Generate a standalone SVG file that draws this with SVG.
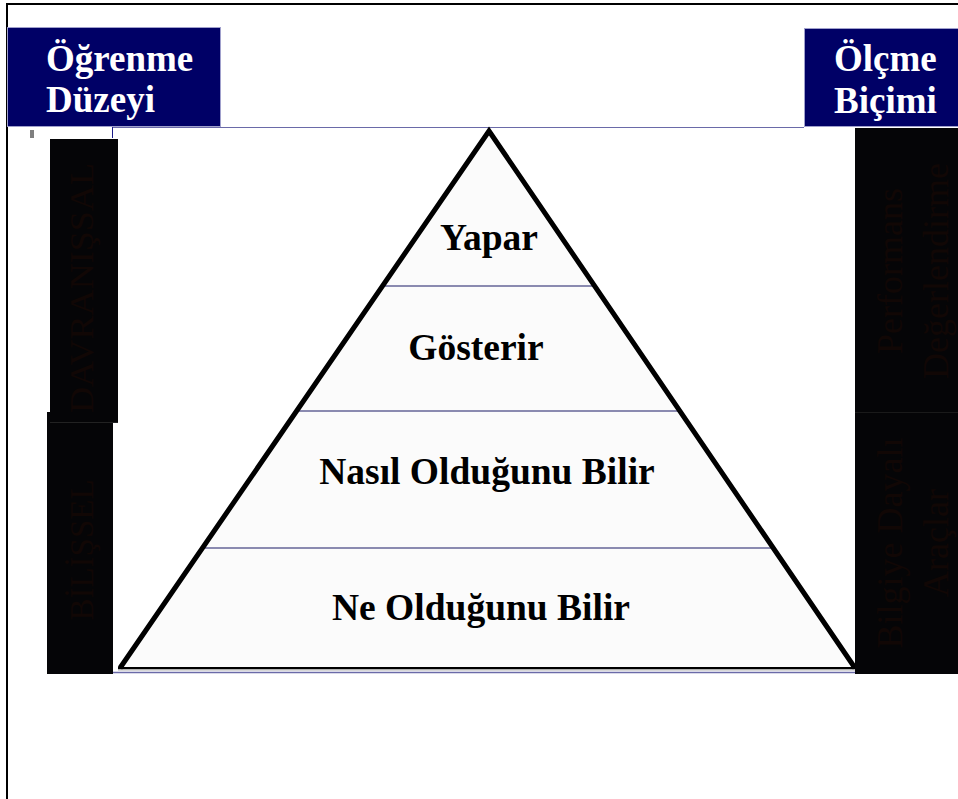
<svg xmlns="http://www.w3.org/2000/svg" width="958" height="799" viewBox="0 0 958 799">
<style>
.hdr{fill:#000066;stroke:#a0a0cc;stroke-width:1}
.ht{font-family:"Liberation Serif","Times New Roman",serif;font-weight:bold;font-size:37px;fill:#ffffff}
.lv{font-family:"Liberation Serif","Times New Roman",serif;font-weight:bold;font-size:37.5px;fill:#000000;text-anchor:middle}
.bar{fill:#050507}
.bt{font-family:"Liberation Serif","Times New Roman",serif;font-size:33px;fill:#110705;text-anchor:middle}
.bt2{font-family:"Liberation Serif","Times New Roman",serif;font-size:36px;fill:#110705;text-anchor:middle}
.div{stroke:#1a1a66;stroke-width:1.2}
</style>
<rect x="0" y="0" width="958" height="799" fill="#ffffff"/>
<g id="frame">
<line x1="6" y1="4" x2="958" y2="4" stroke="#000" stroke-width="2"/>
<line x1="7" y1="4" x2="7" y2="799" stroke="#000" stroke-width="2"/>
</g>
<g id="header-left">
<rect class="hdr" x="7.5" y="27.5" width="213" height="99"/>
<text class="ht" x="46" y="71">Öğrenme</text>
<text class="ht" x="46" y="112">Düzeyi</text>
</g>
<g id="header-right">
<rect class="hdr" x="804.5" y="28.5" width="155" height="98"/>
<text class="ht" x="834" y="71">Ölçme</text>
<text class="ht" x="834" y="113">Biçimi</text>
</g>
<g id="connectors">
<line x1="112" y1="127.5" x2="804" y2="127.5" stroke="#6a6aa8" stroke-width="1"/>
<line x1="112.5" y1="127" x2="112.5" y2="138" stroke="#1a1a88" stroke-width="1"/>
<line x1="31" y1="130" x2="31" y2="138" stroke="#000" stroke-width="1"/>
<line x1="33" y1="130" x2="33" y2="138" stroke="#000" stroke-width="1"/>
</g>
<g id="pyramid">
<polygon points="489,131 120,668 855,668" fill="#fbfbfb" stroke="none"/>
<line class="div" x1="382" y1="286" x2="596" y2="286"/>
<line class="div" x1="297" y1="411" x2="680" y2="411" stroke="#333355"/>
<line class="div" x1="203" y1="548" x2="772" y2="548" stroke="#333366"/>
<line x1="118" y1="669" x2="856" y2="669" stroke="#b0b0b0" stroke-width="3"/>
<line x1="113" y1="672.5" x2="856" y2="672.5" stroke="#6a6aa8" stroke-width="1.5"/>
<polyline points="120,668 489,131 855,668" fill="none" stroke="#000" stroke-width="5" stroke-linejoin="miter"/>
<line x1="118" y1="668" x2="857" y2="668" stroke="#000" stroke-width="2"/>
</g>
<g id="level-yapar"><text class="lv" x="489" y="250">Yapar</text></g>
<g id="level-gosterir"><text class="lv" x="476" y="360">Gösterir</text></g>
<g id="level-nasil"><text class="lv" x="487" y="484">Nasıl Olduğunu Bilir</text></g>
<g id="level-ne"><text class="lv" x="481" y="620">Ne Olduğunu Bilir</text></g>
<g id="bar-bilissel">
<rect class="bar" x="47" y="412" width="66" height="262"/>
<text class="bt" transform="translate(93,550) rotate(-90)">BİLİŞSEL</text>
</g>
<g id="bar-davranissal">
<rect class="bar" x="50" y="139" width="68" height="284"/>
<line x1="50" y1="422.5" x2="118" y2="422.5" stroke="#222" stroke-width="1"/>
<text class="bt" transform="translate(93,288) rotate(-90)" textLength="250" lengthAdjust="spacingAndGlyphs">DAVRANIŞSAL</text>
</g>
<g id="bar-performans">
<rect class="bar" x="855" y="128" width="103" height="285"/>
<text class="bt2" transform="translate(902,271) rotate(-90)">Performans</text>
<text class="bt2" transform="translate(948,271) rotate(-90)">Değerlendirme</text>
</g>
<g id="bar-bilgiye">
<rect class="bar" x="855" y="413" width="103" height="261"/>
<line x1="855" y1="412.5" x2="958" y2="412.5" stroke="#1a1a1a" stroke-width="1"/>
<text class="bt2" transform="translate(902,543) rotate(-90)">Bilgiye Dayalı</text>
<text class="bt2" transform="translate(948,543) rotate(-90)">Araçlar</text>
</g>
</svg>
